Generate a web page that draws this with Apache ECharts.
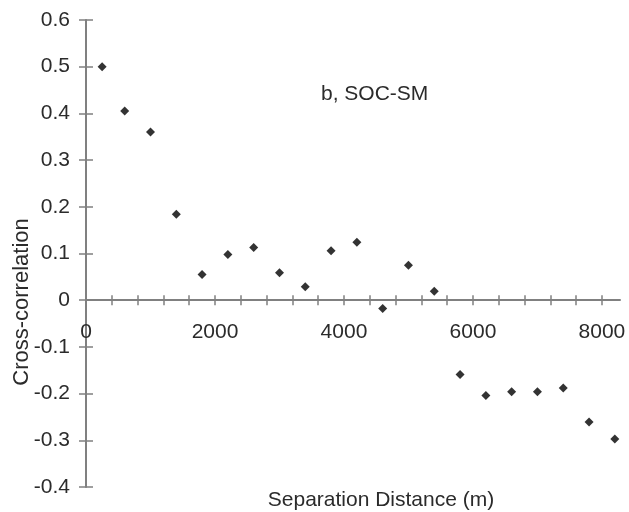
<!DOCTYPE html>
<html>
<head>
<meta charset="utf-8">
<script src="https://cdn.jsdelivr.net/npm/echarts@6/dist/echarts.min.js"></script>
<style>html,body{margin:0;padding:0;background:#fff}#c{width:629px;height:512px}</style>
</head>
<body>
<div id="c"></div>
<script>
// Data
const lags = [250, 600, 1000, 1400, 1800, 2200, 2600, 3000, 3400, 3800, 4200, 4600, 5000, 5400, 5800, 6200, 6600, 7000, 7400, 7800, 8200];
const corr = [0.50, 0.405, 0.36, 0.184, 0.055, 0.098, 0.113, 0.059, 0.029, 0.106, 0.124, -0.018, 0.075, 0.019, -0.159, -0.204, -0.196, -0.196, -0.188, -0.261, -0.297];
const xLabelValues = [0, 2000, 4000, 6000, 8000];
const xTickValues = [0, 400, 800, 1200, 1600, 2000, 2400, 2800, 3200, 3600, 4000, 4400, 4800, 5200, 5600, 6000, 6400, 6800, 7200, 7600, 8000];
const yTicks = [-0.4, -0.3, -0.2, -0.1, 0, 0.1, 0.2, 0.3, 0.4, 0.5, 0.6];

const font = 'Liberation Sans, Arial, Helvetica, sans-serif';
const txt = '#2b2b2b';
const axisCol = '#808080';

const yMin = yTicks[0], yMax = yTicks[yTicks.length - 1];
const xMax = 8280;
const gridLeft = 86, gridRight = 9, gridTop = 20, gridBottomPx = 487, W = 629, H = 512;
const zeroPx = gridTop + (yMax - 0) / (yMax - yMin) * (gridBottomPx - gridTop);

const chart = echarts.init(document.getElementById('c'));
const points = lags.map((x, i) => [x, corr[i]]);

chart.setOption({
  backgroundColor: '#fff',
  animation: false,
  grid: [
    // 0: main plotting grid
    { left: gridLeft, right: gridRight, top: gridTop, bottom: H - gridBottomPx },
    // 1: upper half, its bottom edge is the y = 0 line (x-axis line, downward ticks, labels)
    { left: gridLeft, right: gridRight, top: gridTop, bottom: H - zeroPx },
    // 2: lower half, its top edge is the y = 0 line (upward ticks)
    { left: gridLeft, right: gridRight, top: zeroPx, bottom: H - gridBottomPx },
    // 3: strip left of the y axis, its right edge is the y axis (rightward ticks)
    { left: 2, right: W - gridLeft, top: gridTop, bottom: H - gridBottomPx }
  ],
  xAxis: [
    { type: 'value', gridIndex: 0, min: 0, max: xMax, show: false },
    {
      type: 'value', gridIndex: 1, min: 0, max: xMax, position: 'bottom',
      splitLine: { show: false },
      axisLine: { show: true, onZero: false, lineStyle: { color: axisCol, width: 2 } },
      axisTick: { show: true, length: 5, customValues: xTickValues, lineStyle: { color: axisCol, width: 1.5 } },
      axisLabel: { show: true, customValues: xLabelValues, margin: 22, color: txt, fontSize: 21, fontFamily: font,
                   formatter: v => String(v) }
    },
    {
      type: 'value', gridIndex: 2, min: 0, max: xMax, position: 'top',
      splitLine: { show: false },
      axisLine: { show: false, onZero: false },
      axisTick: { show: true, length: 5, customValues: xTickValues, lineStyle: { color: axisCol, width: 1.5 } },
      axisLabel: { show: false }
    },
    { type: 'value', gridIndex: 3, min: 0, max: 1, show: false }
  ],
  yAxis: [
    {
      type: 'value', gridIndex: 0, min: yMin, max: yMax, interval: 0.1, position: 'left',
      splitLine: { show: false },
      axisLine: { show: true, onZero: false, lineStyle: { color: axisCol, width: 2 } },
      axisTick: { show: true, length: 7, lineStyle: { color: axisCol, width: 1.5 } },
      axisLabel: { show: true, margin: 16, color: txt, fontSize: 21, fontFamily: font }
    },
    { type: 'value', gridIndex: 1, min: 0, max: yMax, show: false },
    { type: 'value', gridIndex: 2, min: yMin, max: 0, show: false },
    {
      type: 'value', gridIndex: 3, min: yMin, max: yMax, interval: 0.1, position: 'right',
      splitLine: { show: false },
      axisLine: { show: false, onZero: false },
      axisTick: { show: true, length: 7, lineStyle: { color: axisCol, width: 1.5 } },
      axisLabel: { show: false }
    }
  ],
  series: [
    {
      type: 'scatter', xAxisIndex: 0, yAxisIndex: 0,
      symbol: 'diamond', symbolSize: 9,
      itemStyle: { color: '#000' },
      data: points
    }
  ],
  graphic: [
    { type: 'text', left: 321, top: 84, style: { text: 'b, SOC-SM', fill: txt, fontSize: 21, fontFamily: font } },
    { type: 'text', x: 381, y: 500, style: { text: 'Separation Distance (m)', fill: txt, fontSize: 21, fontFamily: font, align: 'center', verticalAlign: 'middle' } },
    { type: 'text', x: 22, y: 302, rotation: Math.PI / 2, style: { text: 'Cross-correlation', fill: txt, fontSize: 22, fontFamily: font, align: 'center', verticalAlign: 'middle' } }
  ]
});
</script>
</body>
</html>
